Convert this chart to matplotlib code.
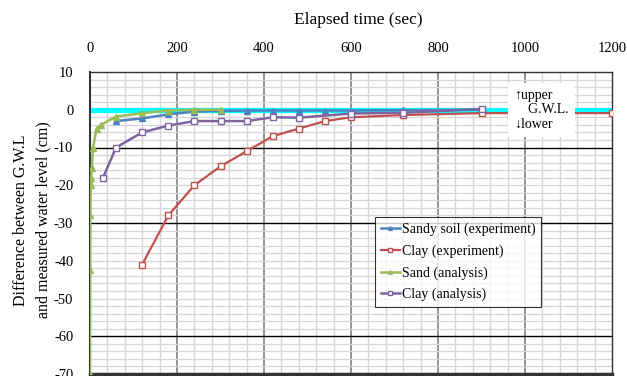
import matplotlib
matplotlib.use("Agg")
import matplotlib.pyplot as plt
import numpy as np

plt.rcParams['font.family'] = ['Liberation Serif', 'DejaVu Serif']
plt.rcParams['axes.unicode_minus'] = False

# ---- data ----
sandy_exp_t = [60, 120, 180, 240, 300, 360, 420, 480, 540, 600, 720, 900]
sandy_exp_v = [-3, -2.3, -1.2, -0.5, -0.3, -0.2, -0.2, -0.2, -0.2, -0.2, -0.1, 0]

clay_exp_t = [120, 180, 240, 300, 360, 420, 480, 540, 600, 720, 900, 1200]
clay_exp_v = [-41, -28, -20, -15, -11, -7, -5, -3, -2, -1.4, -0.9, -0.9]

sand_an_t = [0, 0.5, 1, 2, 3, 4, 7, 15, 25, 60, 120, 180, 240, 300]
sand_an_v = [-70, -42.5, -28, -20, -18, -15.5, -10, -5, -4, -1.8, -0.9, -0.2, 0, 0]

clay_an_t = [30, 60, 120, 180, 240, 300, 360, 420, 480, 600, 720, 900]
clay_an_v = [-18, -10, -6, -4.2, -3, -3, -3, -2, -2.1, -1, -0.8, 0.2]

labels = ["Sandy soil (experiment)", "Clay (experiment)", "Sand (analysis)", "Clay (analysis)"]
x_ticks = [0, 200, 400, 600, 800, 1000, 1200]
y_ticks = [10, 0, -10, -20, -30, -40, -50, -60, -70]

fig = plt.figure(figsize=(6.27, 3.76), dpi=100)
ax = fig.add_axes([90/627, 2/376, (612-90)/627, (374-72)/376])
ax.set_xlim(0, 1200)
ax.set_ylim(-70, 10)

# grid
for x in np.arange(40, 1200, 40):
    major = (x % 200 == 0)
    ax.axvline(x, color='#8a8a8a' if major else '#d6d6d6', lw=1.3 if major else 1.0, zorder=0)
for y in np.arange(-68, 10, 2):
    if y in (-10, -30, -60):
        ax.axhline(y, color='black', lw=1.0, zorder=0.5)
    else:
        ax.axhline(y, color='#d6d6d6', lw=0.9, zorder=0)

ax.axhline(0, color='#00FFFF', lw=3.8, zorder=1)

ax.plot(sandy_exp_t, sandy_exp_v, color='#4F81BD', lw=1.8, marker='^', ms=4.5,
        mfc='#4F81BD', mec='#4F81BD', label=labels[0], zorder=3)
ax.plot(clay_exp_t, clay_exp_v, color='#C0504D', lw=1.6, marker='s', ms=5,
        mfc='white', mec='#C0504D', mew=1.0, label=labels[1], zorder=3)
ax.plot(sand_an_t, sand_an_v, color='#9BBB59', lw=1.8, marker='^', ms=4.5,
        mfc='#9BBB59', mec='#9BBB59', label=labels[2], zorder=3)
ax.plot(clay_an_t, clay_an_v, color='#8064A2', lw=1.8, marker='s', ms=5,
        mfc='white', mec='#8064A2', mew=1.0, label=labels[3], zorder=3)

ax.xaxis.tick_top()
ax.set_xticks(x_ticks)
ax.set_yticks(y_ticks)
ax.tick_params(axis='both', length=0, labelsize=10.5)
ax.tick_params(axis='x', pad=12)
ax.tick_params(axis='y', pad=12)
for s in ['left', 'right', 'top']:
    ax.spines[s].set_color('#333333')
    ax.spines[s].set_linewidth(1.0)
ax.spines['bottom'].set_color('#333333')
ax.spines['bottom'].set_linewidth(2.5)
ax.spines['left'].set_linewidth(1.5)

fig.text(358/627, 1 - 20/376, "Elapsed time (sec)", ha='center', va='center', fontsize=12.5)
fig.text(21/627, 1 - 220/376, "Difference between G.W.L", rotation=90, ha='center', va='center', fontsize=11.5)
fig.text(43/627, 1 - 220/376, "and measured water level (cm)", rotation=90, ha='center', va='center', fontsize=11.5)

ax.text(975, 0, "\u2191upper\n    G.W.L.\n\u2193lower", ha='left', va='center', fontsize=10,
        linespacing=1.1, zorder=5,
        bbox=dict(boxstyle='square,pad=0.45', fc='white', ec='none'))

leg = ax.legend(loc='upper left', bbox_to_anchor=(375/627, 1 - 217/376), bbox_transform=fig.transFigure,
                borderaxespad=0, fontsize=10, frameon=True, fancybox=False, edgecolor='black',
                handlelength=1.4, handletextpad=0.15, labelspacing=0.6, borderpad=0.4, markerscale=0.6)
leg.get_frame().set_linewidth(0.8)
leg.set_zorder(6)

fig.savefig("out.png", dpi=100)
